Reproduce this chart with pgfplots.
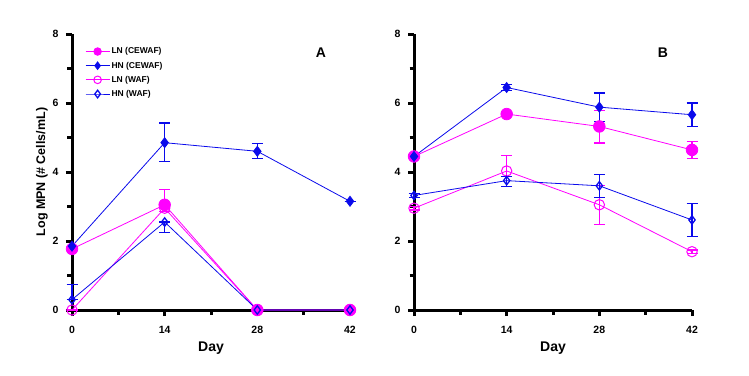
\documentclass[border=0pt]{standalone}
\usepackage{fontspec}
\setmainfont{Liberation Sans}
\usepackage{pgfplots}
\pgfplotsset{compat=1.18}
\usepackage{pgfplotstable}

\definecolor{mag}{RGB}{255,0,255}
\definecolor{blu}{RGB}{10,10,235}

% panel A
\pgfplotstableread{
x y ep em
0 1.77 0 0
14 3.05 0.45 0.2
28 0 0 0
42 0 0 0
}\aLNC
\pgfplotstableread{
x y ep em
0 1.85 0 0
14 4.85 0.57 0.55
28 4.60 0.22 0.22
42 3.15 0 0
}\aHNC
\pgfplotstableread{
x y ep em
0 0 0 0
14 2.95 0 0
28 0 0 0
42 0 0 0
}\aLNW
\pgfplotstableread{
x y ep em
0 0.30 0.45 0
14 2.55 0 0.3
28 0 0 0
42 0 0 0
}\aHNW
% panel B
\pgfplotstableread{
x y ep em
0 4.45 0 0
14 5.68 0 0
28 5.32 0.45 0.48
42 4.64 0.25 0.24
}\bLNC
\pgfplotstableread{
x y ep em
0 4.45 0 0
14 6.45 0.08 0.08
28 5.88 0.41 0.41
42 5.66 0.34 0.34
}\bHNC
\pgfplotstableread{
x y ep em
0 2.95 0.05 0.05
14 4.03 0.44 0.44
28 3.05 0.55 0.56
42 1.69 0.05 0.05
}\bLNW
\pgfplotstableread{
x y ep em
0 3.32 0.05 0.05
14 3.75 0.12 0.17
28 3.60 0.34 0.33
42 2.61 0.48 0.48
}\bHNW

\pgfplotsset{
  panel/.style={
    scale only axis, width=278pt, height=276pt,
    xmin=0, xmax=42, ymin=0, ymax=8,
    axis x line*=bottom, axis y line*=left,
    xtick={0,14,28,42}, ytick={0,2,4,6,8},
    minor xtick={7,21,35}, minor ytick={1,3,5,7},
    tick align=outside, major tick length=6pt, minor tick length=4.5pt,
    major tick style={black, line width=3pt},
    minor tick style={black, line width=3pt},
    axis line style={line width=3pt},
    tick label style={font=\bfseries\fontsize{10.5}{12}\selectfont},
    /pgf/number format/assume math mode=true,
    xticklabel style={yshift=-7pt},
    yticklabel style={xshift=-4pt},
    xlabel={Day}, xlabel style={font=\bfseries\fontsize{14}{16}\selectfont, yshift=-1pt},
    clip=false,
    legend image code/.code={\draw[mark repeat=2,mark phase=2]
      plot coordinates {(0pt,0pt)(12pt,0pt)(24pt,0pt)};},
    every axis plot/.append style={line width=0.8pt,
      error bars/y dir=both, error bars/y explicit,
      error bars/error bar style={line width=1.1pt},
      error bars/error mark options={rotate=90, mark size=5.5pt, line width=1.1pt}},
  },
  lnc/.style={mag, mark=*, mark size=5.8pt, mark options={fill=mag, draw=mag}},
  hnc/.style={blu, mark=diamond*, mark size=5pt, mark options={fill=blu, draw=blu}},
  lnw/.style={mag, mark=o, mark size=5.2pt, mark options={draw=mag, line width=1pt}},
  hnw/.style={blu, mark=diamond, mark size=4.2pt, mark options={draw=blu, line width=1.3pt}},
}

\begin{document}
\begin{tikzpicture}
\useasboundingbox (0pt,0pt) rectangle (749pt,375pt);
\begin{axis}[panel, at={(72pt,65pt)}, anchor=south west,
  ylabel={Log MPN (\# Cells/mL)},
  ylabel style={font=\bfseries\fontsize{12.5}{14}\selectfont, yshift=-2pt},
  legend style={at={(10pt,266pt)}, anchor=north west, draw=none, fill=none,
    font=\bfseries\fontsize{8.5}{10}\selectfont, row sep=3.5pt,
    nodes={inner sep=1.5pt}},
  legend cell align=left,
  legend image post style={mark size=3.8pt},
]
\addplot[lnc] table[x=x, y=y, y error plus=ep, y error minus=em] {\aLNC};
\addplot[hnc] table[x=x, y=y, y error plus=ep, y error minus=em] {\aHNC};
\addplot[lnw] table[x=x, y=y, y error plus=ep, y error minus=em] {\aLNW};
\addplot[hnw] table[x=x, y=y, y error plus=ep, y error minus=em] {\aHNW};
\legend{LN (CEWAF), HN (CEWAF), LN (WAF), HN (WAF)}
\node[font=\bfseries\fontsize{14}{16}\selectfont] at (axis cs:37.6,7.45) {A};
\end{axis}
\begin{axis}[panel, at={(414pt,65pt)}, anchor=south west]
\addplot[lnc] table[x=x, y=y, y error plus=ep, y error minus=em] {\bLNC};
\addplot[hnc] table[x=x, y=y, y error plus=ep, y error minus=em] {\bHNC};
\addplot[lnw] table[x=x, y=y, y error plus=ep, y error minus=em] {\bLNW};
\addplot[hnw] table[x=x, y=y, y error plus=ep, y error minus=em] {\bHNW};
\node[font=\bfseries\fontsize{14}{16}\selectfont] at (axis cs:37.6,7.45) {B};
\end{axis}
\end{tikzpicture}
\end{document}
